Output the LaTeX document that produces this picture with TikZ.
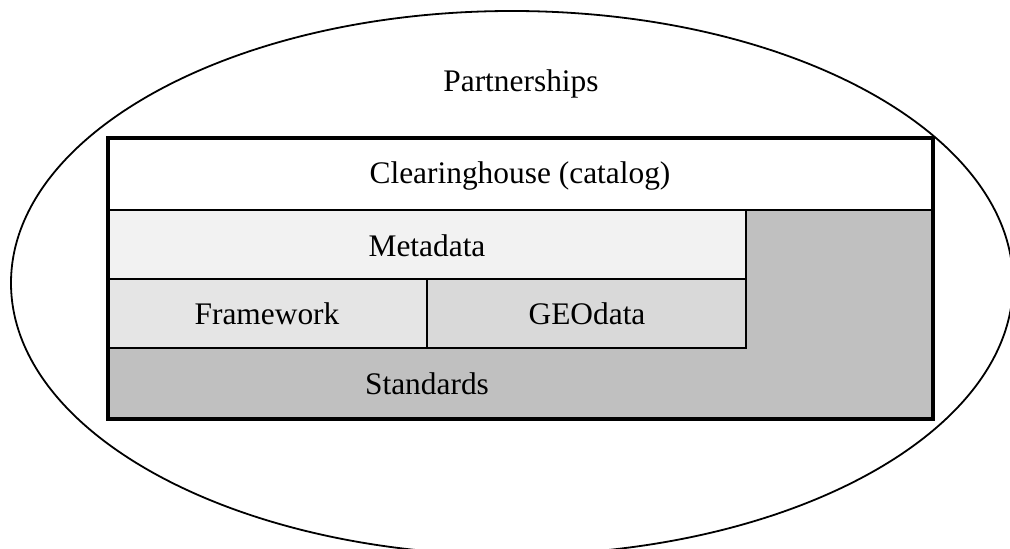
\documentclass[tikz,border=0pt]{standalone}
\usepackage{fontspec}
\setmainfont{Liberation Serif}
\definecolor{metafill}{HTML}{F2F2F2}
\definecolor{framefill}{HTML}{E5E5E5}
\definecolor{geofill}{HTML}{D9D9D9}
\definecolor{stdfill}{HTML}{C0C0C0}
\begin{document}
\begin{tikzpicture}[x=0.5pt,y=-0.5pt,
  label/.style={inner sep=0pt,font=\fontsize{15.7}{18}\selectfont},
  thinrule/.style={line width=0.7pt},
]
\useasboundingbox (0,0) rectangle (1010,549);
\fill[white] (0,0) rectangle (1010,549);

% layered blocks
\fill[stdfill] (108,138) rectangle (933,419);
\fill[white] (108,138) rectangle (933,210);
\filldraw[fill=metafill,thinrule] (108,210) rectangle (746,279);
\filldraw[fill=framefill,thinrule] (108,279) rectangle (427,348);
\filldraw[fill=geofill,thinrule] (427,279) rectangle (746,348);
\draw[line width=1pt] (108,210) -- (933,210);
\draw[line width=2pt] (108,138) rectangle (933,419);

% partnership ellipse
\draw[line width=0.9pt] (512,283) ellipse [x radius=250.5pt, y radius=136pt];

% texts
\node[label] (partner) at (521,84) {Partnerships};
\node[label] (clear) at (520,176) {Clearinghouse (catalog)};
\node[label] (meta) at (427,246) {Metadata};
\node[label] (frame) at (267,314) {Framework};
\node[label] (geo) at (587,314) {GEOdata};
\node[label] (std) at (427,384) {Standards};
\end{tikzpicture}
\end{document}
